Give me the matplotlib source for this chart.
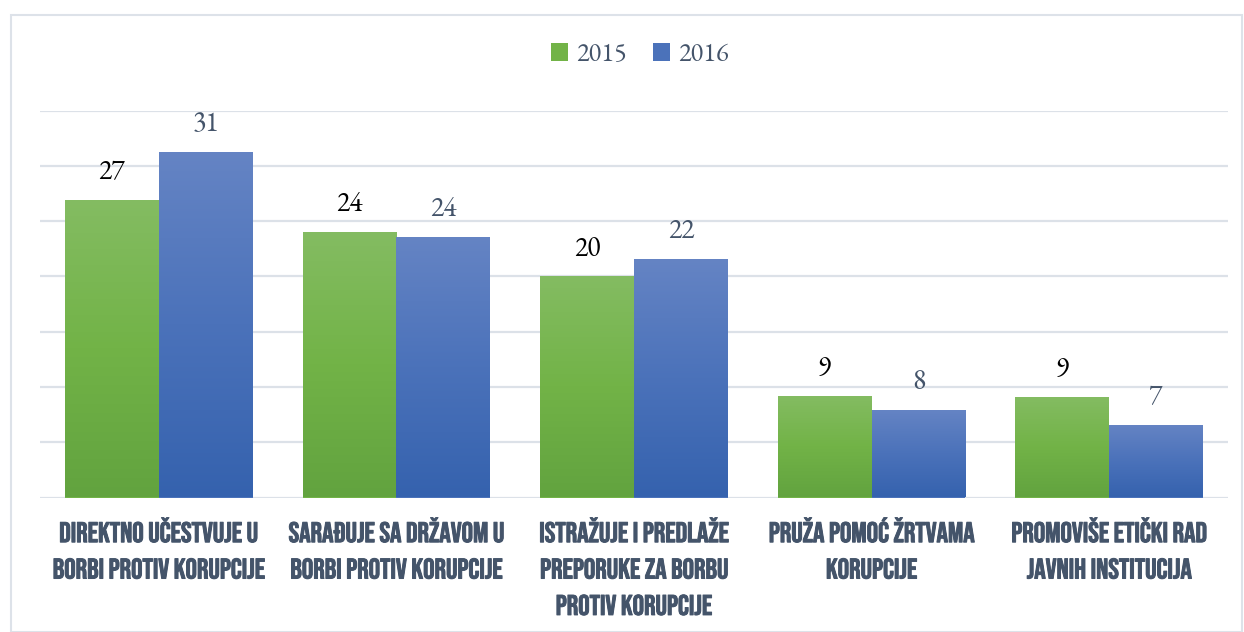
import matplotlib
matplotlib.use("Agg")
import matplotlib.pyplot as plt
import numpy as np
from matplotlib.colors import LinearSegmentedColormap
from matplotlib.patches import Rectangle, Patch
import matplotlib.patheffects as pe

categories = [
    "DIREKTNO UČESTVUJE U\nBORBI PROTIV KORUPCIJE",
    "SARAĐUJE SA DRŽAVOM U\nBORBI PROTIV KORUPCIJE",
    "ISTRAŽUJE I PREDLAŽE\nPREPORUKE ZA BORBU\nPROTIV KORUPCIJE",
    "PRUŽA POMOĆ ŽRTVAMA\nKORUPCIJE",
    "PROMOVIŠE ETIČKI RAD\nJAVNIH INSTITUCIJA",
]
series_names = ["2015", "2016"]
values_2015 = [26.9, 24.0, 20.0, 9.2, 9.1]
values_2016 = [31.3, 23.6, 21.6, 7.9, 6.6]

W, H = 1244, 632
fig = plt.figure(figsize=(W / 100, H / 100), dpi=100)
ax = fig.add_axes([40 / W, 1 - 497.5 / H, (1228 - 40) / W, (497.5 - 110.6) / H])

cat_font = ["Bebas Neue", "Oswald", "DejaVu Sans"]
num_font = ["EB Garamond", "Liberation Serif"]

text_col = "#44546A"
grid_col = "#DCE1E8"

green_cmap = LinearSegmentedColormap.from_list("g", ["#62A33F", "#72B347", "#84BC62"])
blue_cmap = LinearSegmentedColormap.from_list("b", ["#3562AE", "#4B72BA", "#6584C4"])

x = np.arange(len(categories))
bw = 0.395
ax.set_xlim(-0.5, len(categories) - 0.5)
ax.set_ylim(0, 35)

grad = np.linspace(0, 1, 256).reshape(-1, 1)
series = [(values_2015, green_cmap, "#72B347", "black", -bw / 2),
          (values_2016, blue_cmap, "#4B72BA", text_col, bw / 2)]
for vals, cmap, mid, lcol, off in series:
    bars = ax.bar(x + off, vals, width=bw, color=mid, edgecolor="none", zorder=2)
    for b, v in zip(bars, vals):
        bx, by, bwid, bh = b.get_x(), b.get_y(), b.get_width(), b.get_height()
        im = ax.imshow(grad, cmap=cmap, origin="lower", aspect="auto",
                       extent=(bx, bx + bwid, by, by + bh), zorder=3)
        im.set_clip_path(b)
        ax.annotate(f"{v:.0f}", (bx + bwid / 2, bh), xytext=(0, 15),
                    textcoords="offset points", ha="center", va="baseline",
                    fontsize=20, family=num_font, color=lcol, zorder=4)

ax.set_xlim(-0.5, len(categories) - 0.5)
ax.set_ylim(0, 35)
ax.set_yticks(np.arange(0, 36, 5))
ax.yaxis.grid(True, color=grid_col, linewidth=1.6, zorder=0)
ax.set_axisbelow(True)
ax.tick_params(axis="y", left=False, labelleft=False)
ax.tick_params(axis="x", bottom=False, pad=11)
ax.set_xticks(x)
ax.set_xticklabels(categories, fontsize=20.5, family=cat_font,
                   color=text_col, linespacing=1.82, va="top")
for t in ax.get_xticklabels():
    t.set_path_effects([pe.withStroke(linewidth=0.7, foreground=text_col)])
for s in ax.spines.values():
    s.set_visible(False)

handles = [Patch(facecolor="#72B347", edgecolor="none"),
           Patch(facecolor="#4B72BA", edgecolor="none")]
leg = fig.legend(handles, series_names, loc="center", bbox_to_anchor=(640 / W, 1 - 56 / H),
                 ncol=2, frameon=False, prop={"family": num_font, "size": 19},
                 handlelength=0.65, handleheight=0.65, handletextpad=0.3, columnspacing=1.0)
for t in leg.get_texts():
    t.set_color(text_col)

fig.patches.append(Rectangle((10.5 / W, 0), (1242 - 10.5) / W, 1 - 14.5 / H,
                             transform=fig.transFigure, fill=False,
                             edgecolor="#DDE2E9", linewidth=1.5, zorder=0))

fig.savefig("out.png", dpi=100)
